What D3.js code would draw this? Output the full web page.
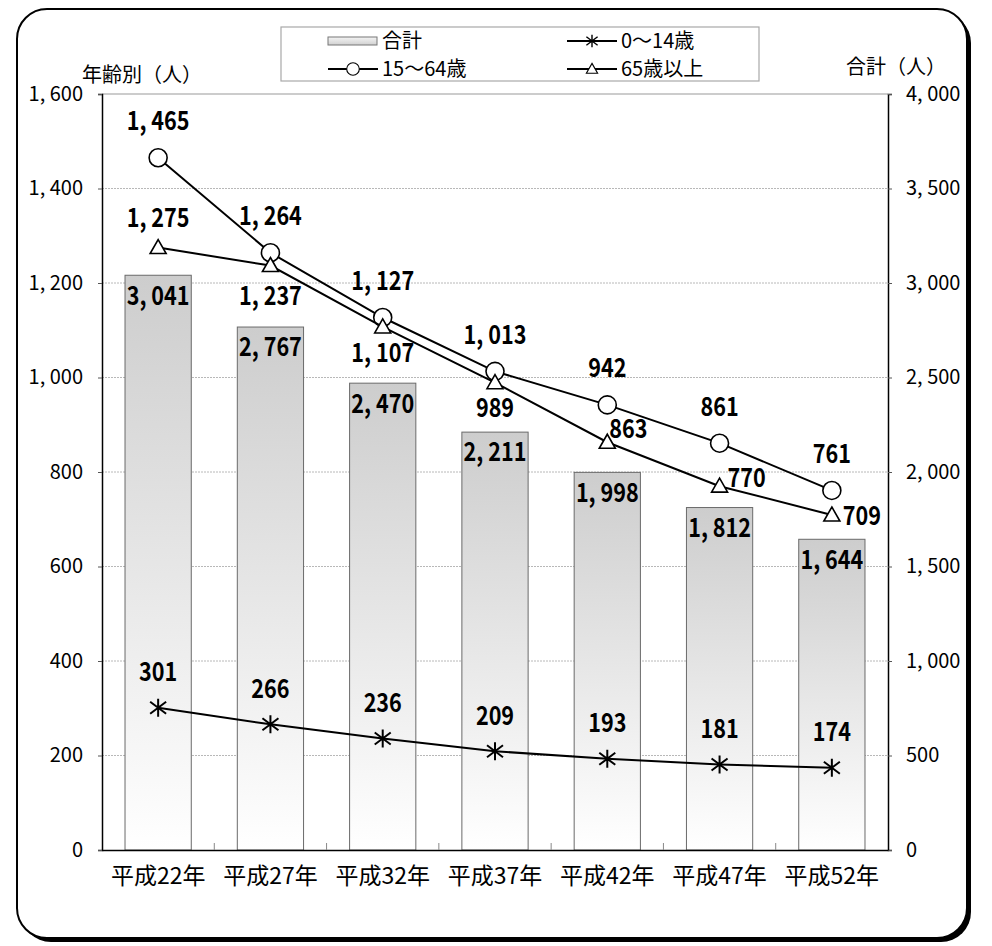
<!DOCTYPE html>
<html>
<head>
<meta charset="utf-8">
<script src="https://cdn.jsdelivr.net/npm/d3@7"></script>
<style>
  html, body { margin: 0; padding: 0; background: #fff; }
  svg { display: block; }
  text { font-family: "Noto Sans CJK JP", "Noto Sans", sans-serif; fill: #000; }
</style>
</head>
<body>
<svg id="chart" width="992" height="946"></svg>
<script>
// ---- data ----
const categories = ["平成22年", "平成27年", "平成32年", "平成37年", "平成42年", "平成47年", "平成52年"];
const totalValues = [3041, 2767, 2470, 2211, 1998, 1812, 1644];
const age0to14 = [301, 266, 236, 209, 193, 181, 174];
const age15to64 = [1465, 1264, 1127, 1013, 942, 861, 761];
const age65plus = [1275, 1237, 1107, 989, 863, 770, 709];
const leftTicks = [0, 200, 400, 600, 800, 1000, 1200, 1400, 1600];
const rightTicks = [0, 500, 1000, 1500, 2000, 2500, 3000, 3500, 4000];
const seriesNames = ["合計", "0～14歳", "15～64歳", "65歳以上"];
const leftTitle = "年齢別（人）";
const rightTitle = "合計（人）";

// ---- layout ----
const W = 992, H = 946;
const plot = { left: 102, right: 888, top: 94, bottom: 850 };

const svg = d3.select("#chart");
const fmt = v => d3.format(",")(v).replace(",", ", ");

const defs = svg.append("defs");
const grad = defs.append("linearGradient").attr("id", "barGrad")
  .attr("x1", 0).attr("y1", 0).attr("x2", 0).attr("y2", 1);
grad.append("stop").attr("offset", "0%").attr("stop-color", "#cdcdcd");
grad.append("stop").attr("offset", "100%").attr("stop-color", "#ffffff");
const gradL = defs.append("linearGradient").attr("id", "legGrad")
  .attr("x1", 0).attr("y1", 0).attr("x2", 0).attr("y2", 1);
gradL.append("stop").attr("offset", "0%").attr("stop-color", "#f4f4f4");
gradL.append("stop").attr("offset", "100%").attr("stop-color", "#d0d0d0");

// frame with shadow
svg.append("rect").attr("x", 21).attr("y", 13).attr("width", 950).attr("height", 929)
  .attr("rx", 30).attr("ry", 30).attr("fill", "#000");
svg.append("rect").attr("x", 17).attr("y", 9).attr("width", 950).attr("height", 929)
  .attr("rx", 30).attr("ry", 30).attr("fill", "#fff").attr("stroke", "#000").attr("stroke-width", 2);

// scales
const x = d3.scaleBand().domain(categories).range([plot.left, plot.right])
  .paddingInner(0.41).paddingOuter(0.205);
const xc = d => x(d) + x.bandwidth() / 2;
const yL = d3.scaleLinear().domain([0, 1600]).range([plot.bottom, plot.top]);
const yR = d3.scaleLinear().domain([0, 4000]).range([plot.bottom, plot.top]);

// gridlines
svg.append("g").selectAll("line").data(leftTicks.filter(t => t > 0 && t < 1600)).join("line")
  .attr("x1", plot.left).attr("x2", plot.right)
  .attr("y1", d => yL(d)).attr("y2", d => yL(d))
  .attr("stroke", "#b8b8b8").attr("stroke-width", 1).attr("stroke-dasharray", "2,1");
svg.append("line").attr("x1", plot.left).attr("x2", plot.right)
  .attr("y1", plot.top).attr("y2", plot.top).attr("stroke", "#999").attr("stroke-width", 1);

// bars
svg.append("g").selectAll("rect").data(categories).join("rect")
  .attr("x", d => x(d)).attr("width", x.bandwidth())
  .attr("y", (d, i) => yR(totalValues[i]))
  .attr("height", (d, i) => plot.bottom - yR(totalValues[i]))
  .attr("fill", "url(#barGrad)").attr("stroke", "#6a6a6a").attr("stroke-width", 1);

// axes
const numFont = "'Liberation Sans', 'Noto Sans CJK JP', sans-serif";
const axL = svg.append("g").attr("transform", `translate(${plot.left},0)`)
  .call(d3.axisLeft(yL).tickValues(leftTicks).tickFormat(fmt).tickSize(4).tickPadding(15));
const axR = svg.append("g").attr("transform", `translate(${plot.right},0)`)
  .call(d3.axisRight(yR).tickValues(rightTicks).tickFormat(fmt).tickSize(4).tickPadding(14));
[axL, axR].forEach(a => {
  a.select(".domain").attr("stroke", "#000").attr("stroke-width", 1.5);
  a.selectAll(".tick line").attr("stroke", "#555");
  a.selectAll("text").attr("font-size", 20).attr("font-family", numFont).attr("fill", "#000");
});
// x axis
const axB = svg.append("g").attr("transform", `translate(0,${plot.bottom})`)
  .call(d3.axisBottom(x).tickSize(0).tickPadding(18));
axB.select(".domain").attr("stroke", "#000").attr("stroke-width", 1.5);
axB.selectAll("text").attr("font-size", 23).attr("font-family", "'Noto Sans CJK JP', sans-serif").attr("fill", "#000");
// category separator ticks (inside)
const step = x.step();
svg.append("g").selectAll("line").data(categories.slice(1)).join("line")
  .attr("x1", d => x(d) - step * x.paddingInner() / 2)
  .attr("x2", d => x(d) - step * x.paddingInner() / 2)
  .attr("y1", plot.bottom).attr("y2", plot.bottom - 7)
  .attr("stroke", "#888").attr("stroke-width", 1);

// axis titles
svg.append("text").attr("x", 82).attr("y", 75).attr("dy", "0.35em")
  .attr("font-size", 20).text(leftTitle);
svg.append("text").attr("x", 846).attr("y", 67).attr("dy", "0.35em")
  .attr("font-size", 20).text(rightTitle);

// bar value labels
function valueLabel(g, px, py, txt, anchor) {
  g.append("text")
    .attr("transform", `translate(${px},${py}) scale(0.83,1)`)
    .attr("text-anchor", anchor || "middle").attr("dy", "0.36em")
    .attr("font-size", 26).attr("font-weight", "bold").text(txt);
}
const labG = svg.append("g");
categories.forEach((c, i) => valueLabel(labG, xc(c), yR(totalValues[i]) + 20, fmt(totalValues[i])));

// markers
const starPath = "M0,-9L0,9M-8,-6L8,6M-8,6L8,-6";
const triPath = "M0,-8L8,6L-8,6Z";
function drawMarker(g, type, px, py) {
  if (type === "star") {
    g.append("path").attr("transform", `translate(${px},${py})`).attr("d", starPath)
      .attr("stroke", "#000").attr("stroke-width", 2).attr("fill", "none");
  } else if (type === "circle") {
    g.append("circle").attr("cx", px).attr("cy", py).attr("r", 9)
      .attr("fill", "#fff").attr("stroke", "#000").attr("stroke-width", 1.6);
  } else {
    g.append("path").attr("transform", `translate(${px},${py})`).attr("d", triPath)
      .attr("fill", "#fff").attr("stroke", "#000").attr("stroke-width", 1.6);
  }
}

const lineSeries = [
  { values: age0to14, marker: "star",
    labelPos: categories.map(() => ({ dx: 0, dy: -36, anchor: "middle" })) },
  { values: age15to64, marker: "circle",
    labelPos: categories.map(() => ({ dx: 0, dy: -37, anchor: "middle" })) },
  { values: age65plus, marker: "triangle",
    labelPos: [
      { dx: 0, dy: -30, anchor: "middle" },
      { dx: 0, dy: 30, anchor: "middle" },
      { dx: 0, dy: 26, anchor: "middle" },
      { dx: 0, dy: 25, anchor: "middle" },
      { dx: 2, dy: -14, anchor: "start" },
      { dx: 8, dy: -9, anchor: "start" },
      { dx: 11, dy: 1, anchor: "start" }
    ] }
];

const line = d3.line().x(d => xc(d.c)).y(d => yL(d.v));
lineSeries.forEach(s => {
  const pts = categories.map((c, i) => ({ c, v: s.values[i] }));
  const g = svg.append("g");
  g.append("path").attr("d", line(pts)).attr("fill", "none")
    .attr("stroke", "#000").attr("stroke-width", 2);
  pts.forEach(p => drawMarker(g, s.marker, xc(p.c), yL(p.v)));
});
lineSeries.forEach(s => {
  categories.forEach((c, i) => {
    const lp = s.labelPos[i];
    valueLabel(labG.raise(), xc(c) + lp.dx, yL(s.values[i]) + lp.dy, fmt(s.values[i]), lp.anchor);
  });
});

// legend
const leg = svg.append("g");
leg.append("rect").attr("x", 281).attr("y", 27).attr("width", 478).attr("height", 54)
  .attr("fill", "#fff").attr("stroke", "#a8a8a8").attr("stroke-width", 1.2);
const legItems = [
  { name: seriesNames[0], type: "bar", x: 328, y: 41 },
  { name: seriesNames[1], type: "star", x: 567, y: 41 },
  { name: seriesNames[2], type: "circle", x: 328, y: 69 },
  { name: seriesNames[3], type: "triangle", x: 567, y: 69 }
];
legItems.forEach(it => {
  if (it.type === "bar") {
    leg.append("rect").attr("x", it.x).attr("y", it.y - 4).attr("width", 49).attr("height", 8)
      .attr("fill", "url(#legGrad)").attr("stroke", "#777").attr("stroke-width", 1);
  } else {
    leg.append("line").attr("x1", it.x).attr("x2", it.x + 50).attr("y1", it.y).attr("y2", it.y)
      .attr("stroke", "#000").attr("stroke-width", 2);
    const g = leg.append("g").attr("transform", `translate(${it.x + 25},${it.y}) scale(0.7)`);
    drawMarker(g, it.type, 0, 0);
  }
  leg.append("text").attr("x", it.x + 54).attr("y", it.y).attr("dy", "0.35em")
    .attr("font-size", 20).text(it.name);
});
</script>
</body>
</html>
